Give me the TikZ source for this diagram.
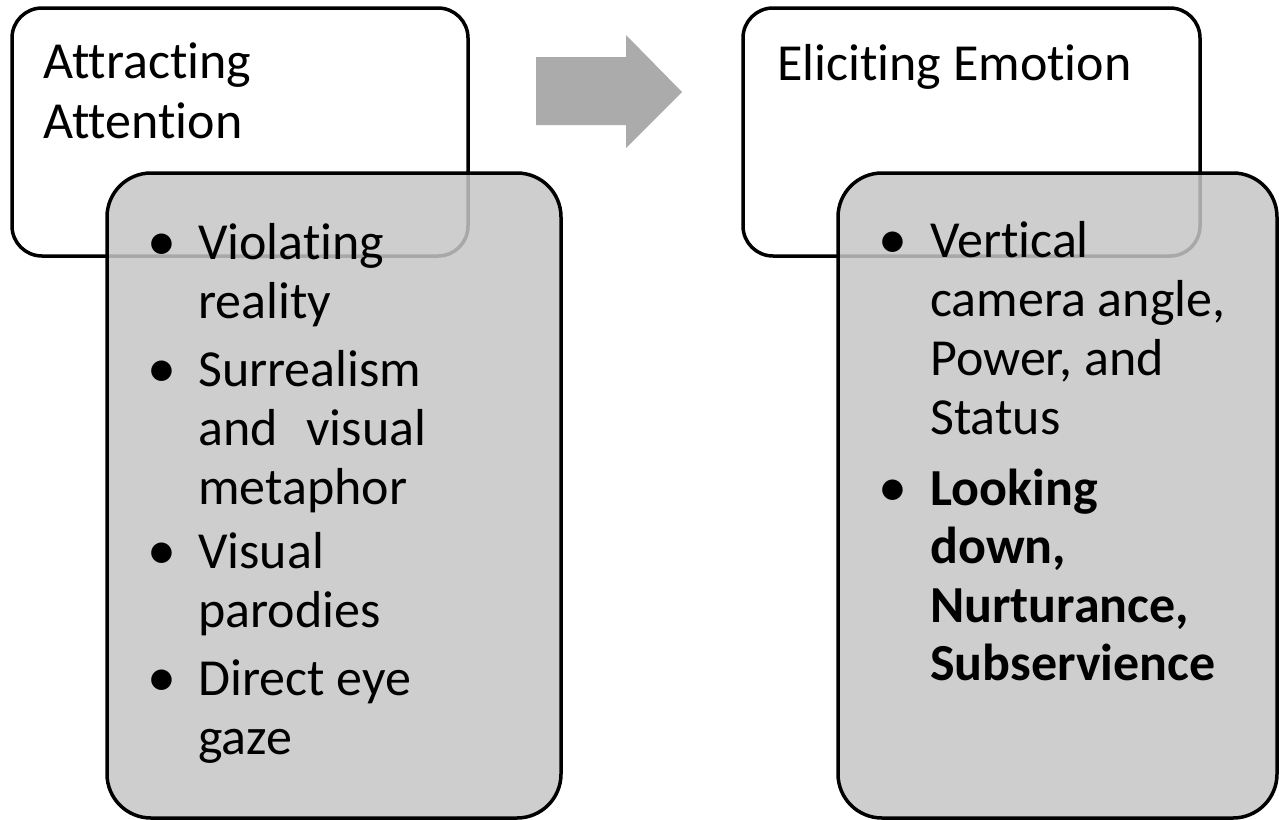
\documentclass[tikz,border=0pt]{standalone}
\usepackage{fontspec}
\setmainfont{Carlito}[Ligatures=NoCommon]
\definecolor{boxgray}{gray}{0.776}
\definecolor{arrowgray}{gray}{0.67}
\begin{document}
\begin{tikzpicture}[x=1pt,y=-1pt,
  framebox/.style={draw=black, line width=3.5pt, rounded corners=30pt, fill=white,
    anchor=north west, inner sep=0pt, outer sep=0pt},
  listbox/.style={draw=black, line width=3.5pt, rounded corners=44pt, fill=boxgray,
    fill opacity=0.85, draw opacity=1, anchor=north west, inner sep=0pt, outer sep=0pt},
  headtext/.style={anchor=base west, inner sep=0pt, align=left,
    font=\fontsize{52}{60}\selectfont},
  itemtext/.style={anchor=base west, inner sep=0pt, align=left,
    font=\fontsize{52}{59}\selectfont},
  dot/.style={anchor=base, inner sep=0pt, font=\fontsize{58}{59}\selectfont}
]
\useasboundingbox (0,0) rectangle (1279,819);

% heading frames
\node[framebox, minimum width=456pt, minimum height=248pt] (frameA) at (12,8) {};
\node[framebox, minimum width=457pt, minimum height=248pt] (frameB) at (743,8) {};

% block arrow between the two stages
\fill[arrowgray] (536,57) -- (626,57) -- (626,35) -- (682,92) -- (626,148)
  -- (626,125) -- (536,125) -- cycle;

% translucent list panels
\node[listbox, minimum width=454pt, minimum height=645pt] (listA) at (107,173) {};
\node[listbox, minimum width=439pt, minimum height=645pt] (listB) at (838,173) {};

% headings (multi-line nodes sit on the baseline of their last line)
\node[headtext] (headA) at (43,138) {Attracting\\Attention};
\node[headtext] (headB) at (777,80) {Eliciting Emotion};

% left list
\node[dot] (bA1) at (162,260) {•};
\node[itemtext] (iA1) at (198,318) {Violating\\reality};
\node[dot] (bA2) at (162,387) {•};
\node[itemtext] (iA2) at (198,504) {Surrealism\\and\hspace{17pt} visual\\metaphor};
\node[dot] (bA3) at (162,569) {•};
\node[itemtext] (iA3) at (198,627) {Visual\\parodies};
\node[dot] (bA4) at (162,696) {•};
\node[itemtext] (iA4) at (198,754) {Direct eye\\gaze};

% right list
\node[dot] (bB1) at (893,258) {•};
\node[itemtext] (iB1) at (930,434) {Vertical\\camera angle,\\Power, and\\Status};
\node[dot] (bB2) at (893,506) {•};
\node[itemtext, font=\fontsize{52}{58.5}\selectfont\bfseries] (iB2) at (930,680.5)
  {Looking\\down,\\Nurturance,\\Subservience};
\end{tikzpicture}
\end{document}
